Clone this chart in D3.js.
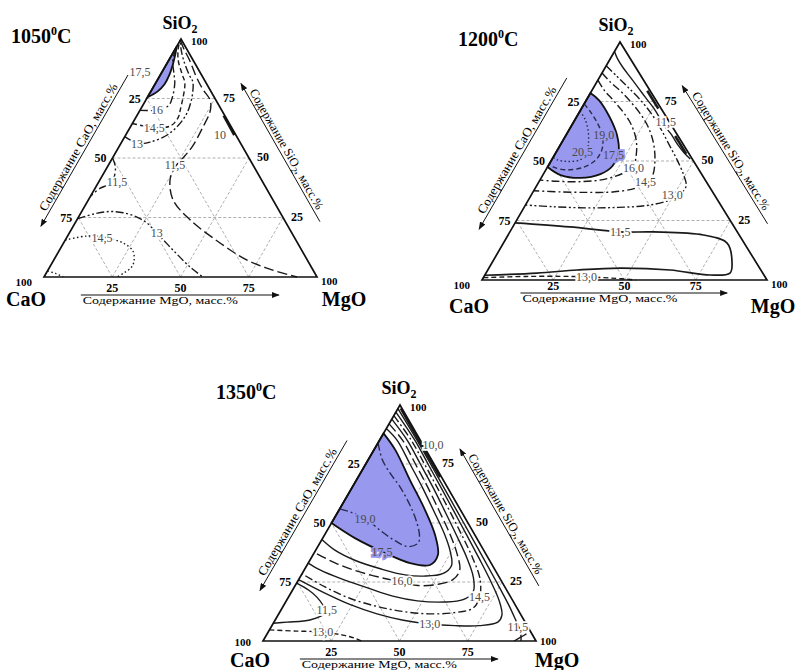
<!DOCTYPE html>
<html>
<head>
<meta charset="utf-8">
<title>CaO-MgO-SiO2</title>
<script src="https://d3js.org/d3.v7.min.js"></script>
<style>
body { margin: 0; background: #fff; }
svg text { font-family: "Liberation Serif", "Times New Roman", serif; }
.lbl { opacity: 0.99; }
</style>
</head>
<body>
<svg id="chart" width="803" height="670"></svg>
<script>
// every point is [MgO, SiO2] in mass %, CaO = 100 - MgO - SiO2
var gridValues = [25, 50, 75];
var tickValues = [25, 50, 75];

// ---- 1050 C ----
var t1050Blue = [[0,75.5],[2.5,78],[3.5,81],[3.3,85],[2.2,90],[1,94],[0,97]];
var t1050C16 = [[0,70],[6.2,70.2],[9.5,72],[9,76],[7,81.5],[5,85],[1.5,91],[0.3,96],[0,99.5]];
var t1050C145 = [[0,64.5],[9,62.8],[14.5,63.5],[15.5,67],[14.6,70.5],[10.7,81.5],[8,85],[3.5,91],[1,96],[0,99.5]];
var t1050C13 = [[0,59],[6,56.2],[10.4,56.7],[15.8,60.5],[17.8,69],[13.7,81.5],[10.5,85],[5.5,91],[2,96],[0,99.5]];
var t1050C115 = [[0,99.5],[3,96],[7.7,91],[12.8,85],[16,81.5],[19,78.5],[23.5,74.4],[25.8,70],[26.6,63],[26.8,54.6],[25.5,49],[24.8,46.2],[25.7,40.8],[31,32.4],[41.5,24],[57.3,14.3],[70.8,7.1],[82,3],[92.7,0]];
var t1050C10 = [[31.8,67.8],[39.8,59.6]];
var t1050C115b = [[0,50],[2.8,46.5],[4.5,42.5],[5,40],[3.8,38.6],[1.8,37.2],[0,34]];
var t1050C13b = [[0,24.5],[5,26.5],[10,27.5],[15.5,27],[21.4,25.2],[26.3,22.7],[32,18.5],[41.6,11.3],[51.4,4.2],[58.2,0]];
var t1050C145b = [[0,15.5],[7,17.2],[13,16.8],[21.8,14.3],[27,11],[29.5,7],[30,4.2],[28.5,1.8],[26.7,0]];
var t1050Corner = [[0,2.5],[3.5,1.5],[7,0]];
var t1050Labels = [["17,5",-8,86],["16",6.2,70.2],["14,5",9,62.6],["13",6,56],["10",34.5,59.7],
  ["11,5",24.4,47],["11,5",6.7,40],["13",32,18.5],["14,5",13,16.4]];
var t1050BlueLabels = [];

// ---- 1200 C ----
var t1200Blue = [[0,78.6],[4.4,75.6],[11.6,68.5],[17.8,61],[21.9,53.8],[22.6,47.9],[20,44.5],[13.8,42.9],[6.2,44.1],[0,47.5]];
var t1200C19 = [[0,74],[4,70.5],[8.5,66],[13,60.5],[15.5,55],[15.5,50.5],[12.5,47.3],[7,46.3],[2,47.5],[0,49]];
var t1200C205 = [[0,71],[3.5,67.5],[7,62.5],[9.5,57.5],[11,53],[10,50.5],[6,49.8],[2,50.5],[0,51.5]];
var t1200C16 = [[0,84],[4,80],[9.5,75.5],[16,70],[21,65],[25.5,59],[28.5,53],[30,47.5],[28,45],[22,42.2],[14,41.3],[6,41.5],[0,42]];
var t1200C145 = [[0,87],[5,83],[10,79.5],[15,75.6],[21,70.5],[27,64.5],[32,58],[36,51],[38.5,44.5],[38.5,41.2],[35,38.5],[28,37],[20,36.8],[10,37],[0,37.5]];
var t1200C13 = [[0,90],[6,85.5],[12,81],[19,75.6],[26,69.5],[32,63.5],[38,57],[44,50.5],[49.5,44],[52.5,39.5],[52,36],[48.5,33],[42,31.2],[33,30.5],[22,30.3],[10,30.8],[0,31.5]];
var t1200C115 = [[0,96],[2.5,93],[6,89.5],[11,85],[16,80.5],[21,76],[25.5,72],[29.5,68],[33,64.5],[37,61],[41,57],[45,53.5],[48.5,50.8]];
var t1200Edge1 = [[19.5,79.5],[27,72]];
var t1200Edge2 = [[38.5,60.5],[46,53]];
var t1200C115b = [[0,24],[20,22.3],[38.7,20.2],[50.3,20.2],[68.5,18.9],[78.5,15.5],[84.3,7.1],[85.6,2.9],[79,2.1],[64,4.2],[46,5],[31.3,4.2],[17.9,2.9],[0,2]];
var t1200C13b = [[0,1],[15,1.5],[30,1.5],[36,1.3],[45,0.8],[54,0]];
var t1200Labels = [["16,0",30.4,47],["14,5",37.4,41.2],["13,0",49.5,35.7],["11,5",32.3,66.4],["11,5",38.7,20.2],["13,0",36,1.3]];
var t1200BlueLabels = [["19,0",13.2,60.9],["20,5",9.2,53.8],["17,5",20.7,52.5]];

// ---- 1350 C ----
var t1350Blue = [[0,88],[7.8,81],[19.6,68.2],[31.5,55.5],[40.5,44.9],[45.8,36.4],[45,32.2],[37.3,33],[26,37.3],[11.8,43.6],[0,50]];
var t1350C19 = [[0,84],[5,77],[11,71],[17.4,65.3],[25,57.5],[31.3,50],[35,44.5],[36,41.5],[33,40],[27,42.5],[20,46.5],[12.4,51.3],[5,54.5],[0,56]];
var t1350W1 = [[0,90],[6.5,85],[16.2,75],[25.8,65],[35,55],[44,45],[49.5,38],[53,32],[51.5,28.5],[45,27.5],[38,28],[28,30.5],[17,34],[7,38.5],[0,43]];
var t1350C16 = [[0,92],[8.5,85],[18.2,75],[27.8,65],[37,55],[46,45],[52.5,37],[57,30],[56.5,26],[52,24],[45,23.5],[38.2,25],[30,26.8],[20,29.5],[10,33],[0,37.5]];
var t1350W3 = [[0,94],[10.2,85],[20,75],[29.7,65],[39,55],[48.2,45],[57.2,35],[63.5,27],[66.5,21],[64.5,17.5],[58,16.5],[48,17],[38,19],[27,22.5],[15,26.5],[6,30],[0,33]];
var t1350C145 = [[0,95.5],[11.7,85],[21.5,75],[31.2,65],[40.8,55],[50.2,45],[59.3,35],[66.5,26],[70,18.6],[70,14],[64,12],[55,11.5],[45,12.5],[35,14.5],[23,18],[11,23],[0,28.5]];
var t1350C13 = [[0,97],[13,85],[22.8,75],[32.6,65],[42.3,55],[52,45],[61.6,35],[71,25],[78,17],[82,11],[82,8],[76,6.5],[67,6.5],[57.5,7.2],[47,8.8],[36,11.5],[24,15.5],[12,20.5],[0,26]];
var t1350C115 = [[0,98.5],[13.8,85],[28.7,70],[43.5,55],[58.3,40],[73,25],[82.6,15],[88,9],[91.5,5],[93.5,2],[94.5,0]];
var t1350C10 = [[1,98.5],[10,89.4],[20,79.4],[30,69.4]];
var t1350C115b = [[0,24.5],[6,21.5],[10.4,18.6],[14.5,15],[16.8,12],[12.7,8.9],[4.8,8],[0,7.5]];
var t1350C13b = [[0,4.7],[10,4.2],[20,3.8],[28,2.5],[33,1.2],[36,0]];
var t1350Corner = [[92,0],[93.5,1.5],[95,3]];
var t1350Labels = [["10,0",20.6,83],["16,0",38.2,25.4],["14,5",70,18.6],["13,0",57.5,7.2],["11,5",90.4,5.9],["11,5",16.8,13.1],["13,0",20,3.8]];
var t1350BlueLabels = [["19,0",11.4,51.7],["17,5",24.7,37.7]];

var dashes = {
  solid: null,
  dash: "5,3",
  longdash: "10,4",
  dashdot: "8,3,2,3",
  dashdotdot: "8,2.5,2,2.5,2,2.5",
  dotted: "1.5,2.5"
};
var blueFill = "#9898ee";

var panels = [
  { title: "1050", tx: 11, ty: 43, C: [44,277], M: [317,277], S: [181,39],
    sio2: [180,29], cao: [26,306], mgo: [344,306], arrowDy: 18, cornerDy: 9,
    blue: t1050Blue,
    lines: [[t1050C16,"dashdot"],[t1050C145,"dash"],[t1050C13,"dashdotdot"],[t1050C115,"longdash"],
      [t1050C10,"solid",2.6],[t1050C115b,"dashdot"],[t1050C13b,"dashdotdot"],[t1050C145b,"dotted"],[t1050Corner,"dotted"]],
    blueLines: [], labels: t1050Labels, blueLabels: t1050BlueLabels },
  { title: "1200", tx: 458, ty: 46, C: [482,280], M: [767,280], S: [620,42],
    sio2: [616,31], cao: [469,313], mgo: [773,313], arrowDy: 13, cornerDy: 9,
    blue: t1200Blue,
    lines: [[t1200C16,"dashdot"],[t1200C145,"dashdot"],[t1200C13,"dashdotdot"],[t1200C115,"solid"],
      [t1200Edge1,"solid",2.6],[t1200Edge2,"solid",2.6],[t1200C115b,"solid",1.7],[t1200C13b,"dash"]],
    blueLines: [[t1200C19,"dash"],[t1200C205,"dotted"]],
    labels: t1200Labels, blueLabels: t1200BlueLabels },
  { title: "1350", tx: 216, ty: 399, C: [263,641], M: [536,641], S: [400,405],
    sio2: [399,394], cao: [250,667], mgo: [557,667], arrowDy: 18, cornerDy: 5,
    blue: t1350Blue,
    lines: [[t1350W1,"solid"],[t1350C16,"longdash"],[t1350W3,"solid"],[t1350C145,"dashdot"],[t1350C13,"solid"],
      [t1350C115,"solid"],[t1350C10,"solid",2.2],[t1350C115b,"solid"],[t1350C13b,"dash"],[t1350Corner,"solid"]],
    blueLines: [[t1350C19,"dashdot"]],
    labels: t1350Labels, blueLabels: t1350BlueLabels }
];

var svg = d3.select("#chart");
svg.append("rect").attr("width", 803).attr("height", 670).attr("fill", "#fff");

svg.append("defs").append("marker")
  .attr("id", "arrow")
  .attr("viewBox", "0 0 8 6")
  .attr("refX", 7).attr("refY", 3)
  .attr("markerWidth", 8).attr("markerHeight", 6)
  .attr("markerUnits", "userSpaceOnUse")
  .attr("orient", "auto")
  .append("path").attr("d", "M0,0 L8,3 L0,6 Z").attr("fill", "#111");

function drawPanel(p) {
  var g = svg.append("g");
  var mx = d3.scaleLinear().domain([0, 100]).range([0, p.M[0] - p.C[0]]);
  var sx = d3.scaleLinear().domain([0, 100]).range([0, p.S[0] - p.C[0]]);
  var sy = d3.scaleLinear().domain([0, 100]).range([0, p.S[1] - p.C[1]]);
  function proj(d) { return [p.C[0] + mx(d[0]) + sx(d[1]), p.C[1] + sy(d[1])]; }

  var curve = d3.line().x(function(d){ return proj(d)[0]; }).y(function(d){ return proj(d)[1]; })
    .curve(d3.curveCatmullRom.alpha(0.5));
  var straight = d3.line().x(function(d){ return proj(d)[0]; }).y(function(d){ return proj(d)[1]; });

  // grid
  gridValues.forEach(function(v) {
    [[[0,v],[100-v,v]], [[v,0],[v,100-v]], [[100-v,0],[0,100-v]]].forEach(function(seg) {
      g.append("path").attr("d", straight(seg))
        .attr("stroke", "#9c9c9c").attr("stroke-width", 0.8)
        .attr("stroke-dasharray", "3,2").attr("fill", "none");
    });
  });

  // blue region
  g.append("path").attr("d", curve(p.blue) + "Z")
    .attr("fill", blueFill).attr("stroke", "#111").attr("stroke-width", 1.8);

  function drawLine(l, col) {
    g.append("path").attr("d", curve(l[0]))
      .attr("fill", "none").attr("stroke", col || "#1a1a1a")
      .attr("stroke-width", l[2] || 1.4)
      .attr("stroke-dasharray", dashes[l[1]]);
  }
  p.lines.forEach(function(l){ drawLine(l); });
  p.blueLines.forEach(function(l){ drawLine(l, "#2a2a50"); });

  // triangle
  g.append("path").attr("d", straight([[0,0],[100,0],[0,100]]) + "Z")
    .attr("fill", "none").attr("stroke", "#111").attr("stroke-width", 1.7);

  // contour labels: a halo copy underneath, then the gray text
  var lg = g.append("g").attr("class", "lbl");
  function drawLabels(list, halo) {
    list.forEach(function(d) {
      var pt = proj([d[1], d[2]]);
      lg.append("text").attr("x", pt[0]).attr("y", pt[1] + 4)
        .attr("text-anchor", "middle").attr("font-size", 12)
        .attr("fill", halo).attr("stroke", halo).attr("stroke-width", 3.5)
        .text(d[0]);
      lg.append("text").attr("x", pt[0]).attr("y", pt[1] + 4)
        .attr("text-anchor", "middle").attr("font-size", 12)
        .attr("fill", "#4a4a4a")
        .text(d[0]);
    });
  }
  drawLabels(p.labels, "#fff");
  drawLabels(p.blueLabels, blueFill);

  // tick labels
  tickValues.forEach(function(v) {
    var l = proj([0, 100 - v]);
    g.append("text").attr("x", l[0] - 6).attr("y", l[1] + 4)
      .attr("text-anchor", "end").attr("font-size", 12).attr("font-weight", "bold").text(v);
    var r = proj([100 - v, v]);
    g.append("text").attr("x", r[0] + 8).attr("y", r[1] + 3)
      .attr("font-size", 12).attr("font-weight", "bold").text(v);
    var b = proj([v, 0]);
    g.append("text").attr("x", b[0]).attr("y", b[1] + p.arrowDy - 3)
      .attr("text-anchor", "middle").attr("font-size", 12).attr("font-weight", "bold").text(v);
  });
  var pc = proj([0,0]), pm = proj([100,0]), ps = proj([0,100]);
  g.append("text").attr("x", ps[0] + 10).attr("y", ps[1] + 6)
    .attr("font-size", 11).attr("font-weight", "bold").text("100");
  g.append("text").attr("x", pc[0] - 12).attr("y", pc[1] + p.cornerDy)
    .attr("text-anchor", "end").attr("font-size", 11).attr("font-weight", "bold").text("100");
  g.append("text").attr("x", pm[0] + 4).attr("y", pm[1] + p.cornerDy - 1)
    .attr("font-size", 11).attr("font-weight", "bold").text("100");

  // vertex names
  var s2 = g.append("text").attr("x", p.sio2[0]).attr("y", p.sio2[1])
    .attr("text-anchor", "middle").attr("font-size", 18).attr("font-weight", "bold");
  s2.append("tspan").text("SiO");
  s2.append("tspan").attr("font-size", 12).attr("dy", 4).text("2");
  g.append("text").attr("x", p.cao[0]).attr("y", p.cao[1])
    .attr("text-anchor", "middle").attr("font-size", 20).attr("font-weight", "bold").text("CaO");
  g.append("text").attr("x", p.mgo[0]).attr("y", p.mgo[1])
    .attr("text-anchor", "middle").attr("font-size", 20).attr("font-weight", "bold").text("MgO");

  // panel title
  var t = g.append("text").attr("x", p.tx).attr("y", p.ty)
    .attr("font-size", 20).attr("font-weight", "bold");
  t.append("tspan").text(p.title);
  t.append("tspan").attr("font-size", 12).attr("dy", -8).text("0");
  t.append("tspan").attr("dy", 8).text("C");

  // axis title along left edge (CaO)
  var off = 28;
  var dl = [ps[0] - pc[0], ps[1] - pc[1]], ll = Math.hypot(dl[0], dl[1]);
  var nl = [dl[1] / ll, -dl[0] / ll];
  var a = proj([0, 15.5]), b = proj([0, 79]);
  a = [a[0] + nl[0] * off, a[1] + nl[1] * off];
  b = [b[0] + nl[0] * off, b[1] + nl[1] * off];
  g.append("line").attr("x1", b[0]).attr("y1", b[1]).attr("x2", a[0]).attr("y2", a[1])
    .attr("stroke", "#111").attr("stroke-width", 1).attr("marker-end", "url(#arrow)");
  var ang = Math.atan2(b[1] - a[1], b[0] - a[0]) * 180 / Math.PI;
  var mid = [(a[0] + b[0]) / 2 + nl[0] * 3, (a[1] + b[1]) / 2 + nl[1] * 3];
  g.append("text").attr("transform", "translate(" + mid[0] + "," + mid[1] + ") rotate(" + ang + ")")
    .attr("text-anchor", "middle").attr("font-size", 12.5)
    .attr("textLength", 145).attr("lengthAdjust", "spacingAndGlyphs")
    .text("Содержание CaO, масс.%");

  // axis title along right edge (SiO2)
  var dr = [ps[0] - pm[0], ps[1] - pm[1]], lr = Math.hypot(dr[0], dr[1]);
  var nr = [-dr[1] / lr, dr[0] / lr];
  var offR = 30;
  var c1 = proj([83, 17]), c2 = proj([25, 75]);
  c1 = [c1[0] + nr[0] * offR, c1[1] + nr[1] * offR];
  c2 = [c2[0] + nr[0] * offR, c2[1] + nr[1] * offR];
  g.append("line").attr("x1", c1[0]).attr("y1", c1[1]).attr("x2", c2[0]).attr("y2", c2[1])
    .attr("stroke", "#111").attr("stroke-width", 1).attr("marker-end", "url(#arrow)");
  var angR = Math.atan2(c1[1] - c2[1], c1[0] - c2[0]) * 180 / Math.PI;
  var midR = [(c1[0] + c2[0]) / 2 + nr[0] * 3, (c1[1] + c2[1]) / 2 + nr[1] * 3];
  var tr = g.append("text").attr("transform", "translate(" + midR[0] + "," + midR[1] + ") rotate(" + angR + ")")
    .attr("text-anchor", "middle").attr("font-size", 12.5);
  tr.append("tspan").text("Содержание SiO");
  tr.append("tspan").attr("font-size", 9).attr("dy", 3).text("2");
  tr.append("tspan").attr("dy", -3).text(", масс.%");

  // axis title under base (MgO)
  var e1 = proj([13.5, 0]), e2 = proj([86, 0]);
  g.append("line").attr("x1", e1[0]).attr("y1", e1[1] + p.arrowDy)
    .attr("x2", e2[0]).attr("y2", e2[1] + p.arrowDy)
    .attr("stroke", "#111").attr("stroke-width", 1).attr("marker-end", "url(#arrow)");
  g.append("text").attr("x", e1[0] + 2).attr("y", e1[1] + p.arrowDy + 9)
    .attr("font-size", 10.5).attr("textLength", 155).attr("lengthAdjust", "spacingAndGlyphs")
    .text("Содержание  MgO, масс.%");
}

panels.forEach(drawPanel);
</script>
</body>
</html>
